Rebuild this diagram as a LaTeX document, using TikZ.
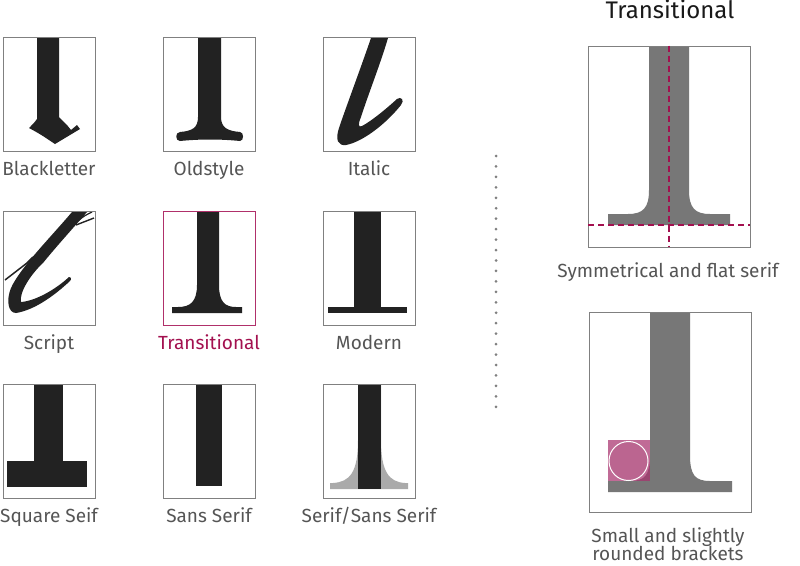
\documentclass[tikz,border=0pt]{standalone}
\usepackage{fontspec}
\setmainfont{Fira Sans}
\definecolor{glyph}{HTML}{222222}
\definecolor{biggray}{HTML}{777777}
\definecolor{lightgray}{HTML}{AAAAAA}
\definecolor{boxgray}{HTML}{808080}
\definecolor{crimson}{HTML}{A3104F}
\definecolor{framecrimson}{HTML}{B0306A}
\definecolor{labelgray}{HTML}{555555}
\definecolor{pinksq}{HTML}{A8326E}
\definecolor{pinkcirc}{HTML}{BB6590}
\begin{document}
\begin{tikzpicture}[x=1pt,y=-1pt,
  frame/.style={draw=boxgray,line width=0.9pt,minimum width=92pt,minimum height=114pt,inner sep=0pt},
  bigframe/.style={draw=boxgray,line width=0.9pt,minimum width=162pt,minimum height=201pt,inner sep=0pt},
  lab/.style={anchor=base,text=labelgray,font=\fontsize{19}{20}\selectfont,inner sep=0pt},
  ink/.style={fill=glyph,draw=none},
  grayink/.style={fill=biggray,draw=none},
  dashline/.style={draw=crimson,line width=1.6pt,dash pattern=on 6pt off 4pt},
  dotline/.style={draw=boxgray,line width=3pt,line cap=round,dash pattern=on 0pt off 10.45pt}]
\useasboundingbox (0,0) rectangle (800,565);
\fill[white] (0,0) rectangle (800,565);

% ---------- Row 1 ----------
% Blackletter
\fill[ink] (37,37) -- (37,119) .. controls (34,123) .. (29,128) .. controls (40,134) .. (55,144)
  -- (80,129) -- (77,125) -- (71,130) -- (67,125) -- (59,117) -- (59,37) -- cycle;
\node[frame] (b1) at (49,94) {};
\node[lab] (l1) at (49,175) {Blackletter};
% Oldstyle
\fill[ink] (198,37) -- (198,117) .. controls (198,128) and (192,131) .. (180,132)
  .. controls (175,132) and (175,141) .. (180,141) .. controls (200,139) and (220,139) .. (240,141)
  .. controls (244,141) and (244,132) .. (240,132) .. controls (228,131) and (221,128) .. (221,117)
  -- (221,37) -- cycle;
\node[frame] (b2) at (209,94) {};
\node[lab] (l2) at (209,175) {Oldstyle};
% Italic
\fill[ink] (371,38) .. controls (360,70) and (345,110) .. (339,128)
  .. controls (335,140) and (338,146) .. (346,145) .. controls (362,142) and (385,125) .. (401,105)
  .. controls (405,100) and (401,96) .. (397,99) .. controls (385,110) and (370,122) .. (362,126)
  .. controls (358,128) and (358,124) .. (361,117) .. controls (368,95) and (380,65) .. (388,38) -- cycle;
\node[frame] (b3) at (369,94) {};
\node[lab] (l3) at (369,175) {Italic};

% ---------- Row 2 ----------
% Script
\fill[ink] (72,212) .. controls (50,238) and (20,268) .. (11,288) .. controls (6,300) and (8,313) .. (16,313)
  .. controls (35,310) and (55,295) .. (70,281) .. controls (72,279) and (71,276) .. (69,277)
  .. controls (55,290) and (35,301) .. (21,302) .. controls (19,293) and (30,275) .. (43,263)
  .. controls (55,248) and (75,226) .. (87,212) -- cycle;
\draw[glyph,line width=1.5pt] (5,280) -- (27,263) -- (33,257);
\draw[glyph,line width=1.4pt] (76,225) -- (94,218);
\draw[glyph,line width=1.2pt] (78,221) .. controls (84,216) .. (92,212);
\node[frame] (b4) at (49,268) {};
\node[lab] (l4) at (49,349) {Script};
% Transitional
\fill[ink] (197,211) -- (197,285) .. controls (197,302) and (190,307) .. (178,307) -- (172,307) -- (172,313)
  -- (242,313) -- (242,307) -- (236,307) .. controls (225,307) and (219,302) .. (219,285) -- (219,211) -- cycle;
\node[frame,draw=framecrimson] (b5) at (209,268) {};
\node[lab,text=crimson] (l5) at (209,349) {Transitional};
% Modern
\fill[ink] (354,211) rectangle (381,307);
\fill[ink] (328,307) rectangle (407,313);
\node[frame] (b6) at (369,268) {};
\node[lab] (l6) at (369,349) {Modern};

% ---------- Row 3 ----------
% Square Seif
\fill[ink] (34,384) rectangle (63,461);
\fill[ink] (7,461) rectangle (87,487);
\node[frame] (b7) at (49,441) {};
\node[lab] (l7) at (49,522) {Square Seif};
% Sans Serif
\fill[ink] (196,384) rectangle (222,486);
\node[frame] (b8) at (209,441) {};
\node[lab] (l8) at (209,522) {Sans Serif};
% Serif/Sans Serif
\fill[lightgray] (358,384) -- (358,440) .. controls (358,472) and (350,482) .. (333,483) -- (330,483) -- (330,489)
  -- (408,489) -- (408,483) -- (405,483) .. controls (389,482) and (381,472) .. (381,440) -- (381,384) -- cycle;
\fill[ink] (358,384) rectangle (381,489);
\node[frame] (b9) at (369,441) {};
\node[lab] (l9) at (369,522) {Serif/Sans Serif};

% ---------- divider ----------
\coordinate (dtop) at (496,156);
\coordinate (dbot) at (496,408);
\draw[dotline] (dtop) -- (dbot);

% ---------- Right top ----------
\node[anchor=base,text=black!90,font=\fontsize{24}{26}\selectfont,inner sep=0pt] (title) at (670,18) {Transitional};
\fill[grayink] (649,46) -- (649,190) .. controls (649,208) and (643,214) .. (628,214) -- (608,214) -- (608,225)
  -- (730,225) -- (730,214) -- (710,214) .. controls (695,214) and (689,208) .. (689,190) -- (689,46) -- cycle;
\node[bigframe] (rt) at (669,146.5) {};
\coordinate (hl) at (588,225);
\coordinate (hr) at (750,225);
\draw[dashline] (rt.north) -- (rt.south);
\draw[dashline] (hl) -- (hr);
\node[lab] (lt) at (668,277) {Symmetrical and flat serif};

% ---------- Right bottom ----------
\fill[grayink] (650,312) -- (650,455) .. controls (650,475) and (645,481) .. (630,481) -- (608,481) -- (608,492)
  -- (732,492) -- (732,481) -- (710,481) .. controls (695,481) and (690,475) .. (690,455) -- (690,312) -- cycle;
\fill[pinksq,opacity=0.72] (608,440) rectangle (650,481);
\node[circle,fill=pinkcirc,draw=white,line width=1pt,minimum size=39pt,inner sep=0pt] (circ) at (628.5,461) {};
\node[bigframe,minimum height=200pt] (rb) at (670,412) {};
\node[lab] (lb1) at (668,542) {Small and slightly};
\node[lab] (lb2) at (668,560) {rounded brackets};
\end{tikzpicture}
\end{document}
